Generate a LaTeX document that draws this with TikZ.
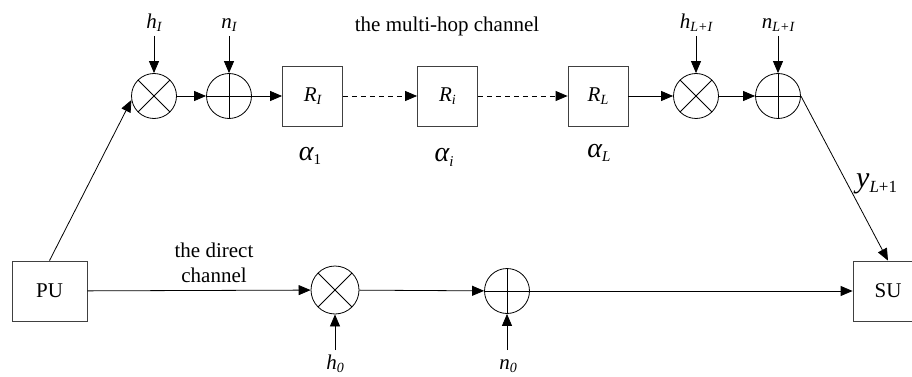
\documentclass[tikz,border=0pt]{standalone}
\usepackage{fontspec}
\setmainfont{Liberation Serif}
\usetikzlibrary{arrows.meta}
\newcommand{\lab}[2]{{\itshape #1}\raisebox{-3pt}{\fontsize{14}{14}\selectfont\itshape #2}}
\newcommand{\alab}[2]{{\fontsize{28}{28}\selectfont\itshape α}\raisebox{-5pt}{\fontsize{15}{15}\selectfont #2}}
\begin{document}
\begin{tikzpicture}[x=1pt,y=-1pt,
  every node/.style={font=\fontsize{21}{25}\selectfont},
  line/.style={line width=0.8pt},
  arr/.style={line, -{Triangle[length=12pt,width=10pt]}},
  boxnode/.style={draw=black!75, line width=0.8pt, rectangle, minimum width=60pt, minimum height=60pt, inner sep=0},
  mult/.style={draw, circle, line width=0.8pt, minimum size=45pt, inner sep=0,
    path picture={\draw[line width=0.8pt] (path picture bounding box.north west) -- (path picture bounding box.south east)
      (path picture bounding box.north east) -- (path picture bounding box.south west);}},
  adder/.style={draw, circle, line width=0.8pt, minimum size=45pt, inner sep=0,
    path picture={\draw[line width=0.8pt] (path picture bounding box.north) -- (path picture bounding box.south)
      (path picture bounding box.west) -- (path picture bounding box.east);}}
]
\useasboundingbox (0,0) rectangle (912,377);
% top row
\node[mult] (m1) at (154,96) {};
\node[adder] (a1) at (229,96) {};
\node[boxnode] (R1) at (312.5,96) {\lab{R}{I}};
\node[boxnode] (Ri) at (447.5,96) {\lab{R}{i}};
\node[boxnode] (RL) at (598,96) {\lab{R}{L}};
\node[mult] (m2) at (696,96) {};
\node[adder] (a2) at (778,96) {};
% bottom row
\node[boxnode, minimum width=75pt] (PU) at (49.5,291) {PU};
\node[mult, minimum size=48pt] (mb) at (335,290) {};
\node[adder] (ab) at (507,291) {};
\node[boxnode, minimum width=70pt] (SU) at (888,291) {SU};
% top labels
\node[anchor=base] (lh1) at (154,29) {\lab{h}{I}};
\node[anchor=base] (ln1) at (229,29) {\lab{n}{I}};
\node[anchor=base] (lh2) at (696,29) {\lab{h}{L+I}};
\node[anchor=base] (ln2) at (778,29) {\lab{n}{L+I}};
\coordinate (ch1) at (154,36);
\coordinate (cn1) at (229,36);
\coordinate (ch2) at (696,36);
\coordinate (cn2) at (778,36);
\node (mh) at (447,26) {the multi-hop channel};
\node[anchor=base] (al1) at (310,160) {\alab{α}{1}};
\node[anchor=base] (ali) at (444,161) {\alab{α}{\itshape i}};
\node[anchor=base] (alL) at (599,157) {\alab{α}{\itshape L}};
\node[anchor=base west, inner sep=0] (ylab) at (856,187) {{\fontsize{30}{30}\selectfont\itshape y}\raisebox{-5pt}{\fontsize{17}{17}\selectfont\itshape L\upshape+1}};
% bottom labels
\node[align=center, font=\fontsize{21}{25}\selectfont] (dc) at (214,263) {the direct\\channel};
\node[anchor=base, inner sep=1pt] (lh0) at (335,369) {\lab{h}{0}};
\node[anchor=base, inner sep=1pt] (ln0) at (508,369) {\lab{n}{0}};
\coordinate (ch0) at (335,350);
\coordinate (cn0) at (507,350);
% connectors
\draw[arr] (ch1) -- (m1.north);
\draw[arr] (cn1) -- (a1.north);
\draw[arr] (ch2) -- (m2.north);
\draw[arr] (cn2) -- (a2.north);
\draw[arr] (m1) -- (a1);
\draw[arr] (a1.east) -- (R1);
\draw[arr, dashed, dash pattern=on 5pt off 4pt] (R1) -- (Ri);
\draw[arr, dashed, dash pattern=on 5pt off 4pt] (Ri) -- (RL);
\draw[arr] (RL) -- (m2);
\draw[arr] (m2) -- (a2);
\draw[arr] (PU.north) -- (m1.190);
\draw[arr] (a2.east) -- (SU.north);
\draw[arr] (PU) -- (mb);
\draw[arr] (mb) -- (ab);
\draw[arr] (ab.east) -- (SU);
\draw[arr] (ch0) -- (mb.south);
\draw[arr] (cn0) -- (ab.south);
\end{tikzpicture}
\end{document}
